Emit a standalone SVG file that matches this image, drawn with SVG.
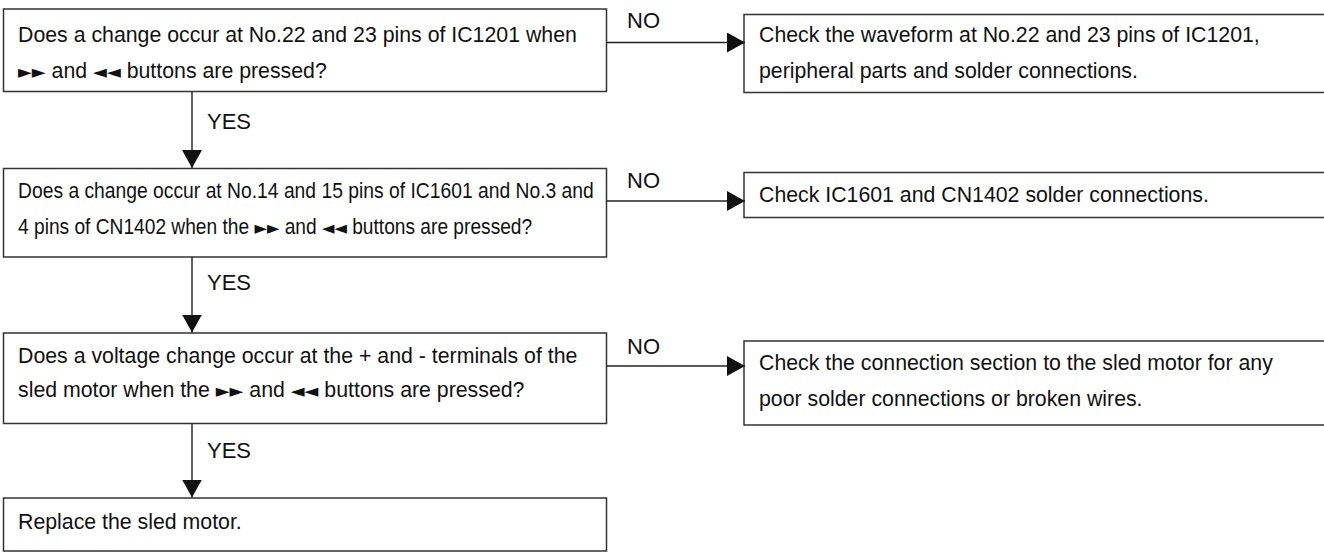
<svg xmlns="http://www.w3.org/2000/svg" width="1324" height="552" viewBox="0 0 1324 552">
<style>
  .box { fill: #ffffff; stroke: #333333; stroke-width: 1.5; }
  .t { font-family: "Liberation Sans", Arial, sans-serif; font-size: 21.3px; fill: #111111; }
  .lbl { font-family: "Liberation Sans", Arial, sans-serif; font-size: 22px; fill: #111111; }
  .sym { font-family: "DejaVu Sans", sans-serif; font-size: 18px; }
  .conn line { stroke: #222222; stroke-width: 1.4; fill: none; }
</style>
<defs>
  <marker id="ah" viewBox="0 0 18 20" refX="18" refY="10" markerWidth="18" markerHeight="20" markerUnits="userSpaceOnUse" orient="auto">
    <path d="M0,0 L18,10 L0,20 Z" fill="#111111"/>
  </marker>
</defs>
<rect width="1324" height="552" fill="#ffffff"/>

<g id="q1">
  <rect class="box" x="3.5" y="9" width="603" height="82.5"/>
  <text class="t" x="18" y="41.5">Does a change occur at No.22 and 23 pins of IC1201 when</text>
  <text class="t" x="18" y="77.5"><tspan class="sym">►►</tspan> and <tspan class="sym">◄◄</tspan> buttons are pressed?</text>
</g>
<g id="a1">
  <rect class="box" x="744" y="14.5" width="600" height="78"/>
  <text class="t" x="759" y="41.5">Check the waveform at No.22 and 23 pins of IC1201,</text>
  <text class="t" x="759" y="77.5">peripheral parts and solder connections.</text>
</g>
<g id="q2">
  <rect class="box" x="3.5" y="168.5" width="603" height="88.5"/>
  <text class="t" transform="translate(18,198) scale(0.906,1)">Does a change occur at No.14 and 15 pins of IC1601 and No.3 and</text>
  <text class="t" transform="translate(18,234) scale(0.9,1)">4 pins of CN1402 when the <tspan class="sym">►►</tspan> and <tspan class="sym">◄◄</tspan> buttons are pressed?</text>
</g>
<g id="a2">
  <rect class="box" x="744" y="172.5" width="600" height="45"/>
  <text class="t" x="759" y="202">Check IC1601 and CN1402 solder connections.</text>
</g>
<g id="q3">
  <rect class="box" x="3.5" y="333" width="603" height="90.5"/>
  <text class="t" x="18" y="363">Does a voltage change occur at the + and - terminals of the</text>
  <text class="t" x="18" y="397">sled motor when the <tspan class="sym">►►</tspan> and <tspan class="sym">◄◄</tspan> buttons are pressed?</text>
</g>
<g id="a3">
  <rect class="box" x="744" y="341" width="600" height="84"/>
  <text class="t" x="759" y="370">Check the connection section to the sled motor for any</text>
  <text class="t" x="759" y="406">poor solder connections or broken wires.</text>
</g>
<g id="r4">
  <rect class="box" x="3.5" y="498" width="603" height="53"/>
  <text class="t" x="18" y="529">Replace the sled motor.</text>
</g>

<g id="connectors" class="conn">
  <line x1="192" y1="91.5" x2="192" y2="168" marker-end="url(#ah)"/>
  <line x1="192" y1="257" x2="192" y2="332.5" marker-end="url(#ah)"/>
  <line x1="192" y1="423.5" x2="192" y2="497.5" marker-end="url(#ah)"/>
  <line x1="606.5" y1="42.5" x2="745" y2="42.5" marker-end="url(#ah)"/>
  <line x1="606.5" y1="201" x2="745" y2="201" marker-end="url(#ah)"/>
  <line x1="606.5" y1="366" x2="745" y2="366" marker-end="url(#ah)"/>
</g>
<g id="labels">
  <text class="lbl" x="627" y="27.5">NO</text>
  <text class="lbl" x="627" y="187.5">NO</text>
  <text class="lbl" x="627" y="354">NO</text>
  <text class="lbl" x="207" y="128.5">YES</text>
  <text class="lbl" x="207" y="290">YES</text>
  <text class="lbl" x="207" y="458">YES</text>
</g>
</svg>
